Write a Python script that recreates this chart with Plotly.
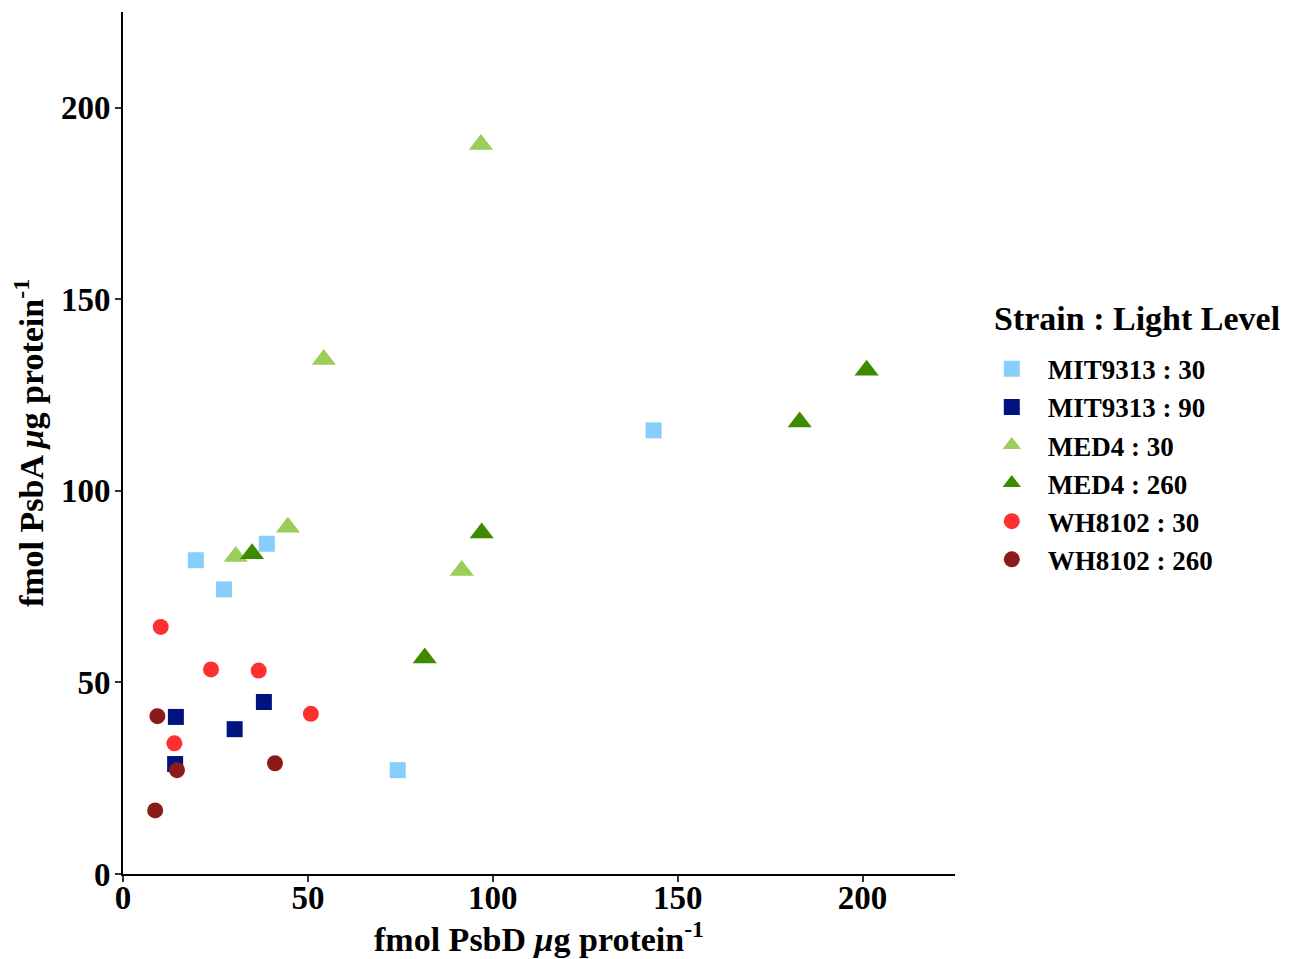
import plotly.graph_objects as go

groups = ["MIT9313 : 30", "MIT9313 : 90", "MED4 : 30", "MED4 : 260", "WH8102 : 30", "WH8102 : 260"]
colors = ["#87CEFA", "#00137F", "#9ACD5A", "#3F8B00", "#FF3030", "#8B1A1A"]
symbols = ["square", "square", "triangle-up", "triangle-up", "circle", "circle"]
sizes = [16, 16, 21, 21, 16, 16]

psbd_mit30 = [19.7, 27.3, 38.9, 143.5, 74.3]
psba_mit30 = [81.9, 74.3, 86.2, 115.8, 27.1]
psbd_mit90 = [14.3, 14.1, 30.2, 38.1]
psba_mit90 = [41.0, 28.7, 37.8, 44.9]
psbd_med30 = [96.8, 54.3, 44.6, 30.5, 91.6]
psba_med30 = [190.4, 134.3, 90.5, 82.9, 79.2]
psbd_med260 = [201.1, 183.0, 97.0, 81.6, 34.9]
psba_med260 = [131.5, 118.0, 89.0, 56.4, 83.6]
psbd_wh30 = [10.2, 23.8, 36.7, 50.8, 13.9]
psba_wh30 = [64.5, 53.4, 53.1, 41.8, 34.1]
psbd_wh260 = [9.3, 14.6, 41.1, 8.7]
psba_wh260 = [41.2, 27.1, 28.9, 16.6]

xs = [psbd_mit30, psbd_mit90, psbd_med30, psbd_med260, psbd_wh30, psbd_wh260]
ys = [psba_mit30, psba_mit90, psba_med30, psba_med260, psba_wh30, psba_wh260]

fig = go.Figure()
for g, c, s, sz, x, y in zip(groups, colors, symbols, sizes, xs, ys):
    fig.add_trace(go.Scatter(
        x=x, y=y, mode="markers", name=g,
        marker=dict(color=c, symbol=s, size=sz, line=dict(width=0)),
    ))

font_family = "Liberation Serif"
axis_common = dict(
    showgrid=False, zeroline=False, showline=True, linecolor="black", linewidth=2,
    ticks="outside", ticklen=6, tickwidth=2, tickcolor="#333333",
    tickfont=dict(family=font_family, size=33, color="black", weight="bold"),
    range=[0, 225], tickvals=[0, 50, 100, 150, 200],
)

fig.update_layout(
    width=1295, height=959,
    plot_bgcolor="white", paper_bgcolor="white",
    margin=dict(l=115, r=348, t=4, b=93),
    xaxis=dict(**axis_common, ticklabelstandoff=-13,
               title=dict(text="fmol PsbD <i>μ</i>g protein<sup>-1</sup>",
                          font=dict(family=font_family, size=34, color="black", weight="bold"),
                          standoff=0)),
    yaxis=dict(**axis_common, ticklabelstandoff=-2,
               title=dict(text="fmol PsbA <i>μ</i>g protein<sup>-1</sup>",
                          font=dict(family=font_family, size=34, color="black", weight="bold"),
                          standoff=10)),
    legend=dict(
        font=dict(family=font_family, size=27, color="black", weight="bold"),
        x=1.025, xanchor="left", y=0.614, yanchor="top",
        itemwidth=62,
    ),
    annotations=[dict(
        text="Strain : Light Level", xref="paper", yref="paper",
        x=1.0445, y=0.645, xanchor="left", yanchor="middle", showarrow=False,
        font=dict(family=font_family, size=34, color="black", weight="bold"),
    )],
    showlegend=True,
)

fig.write_html("out.html")
